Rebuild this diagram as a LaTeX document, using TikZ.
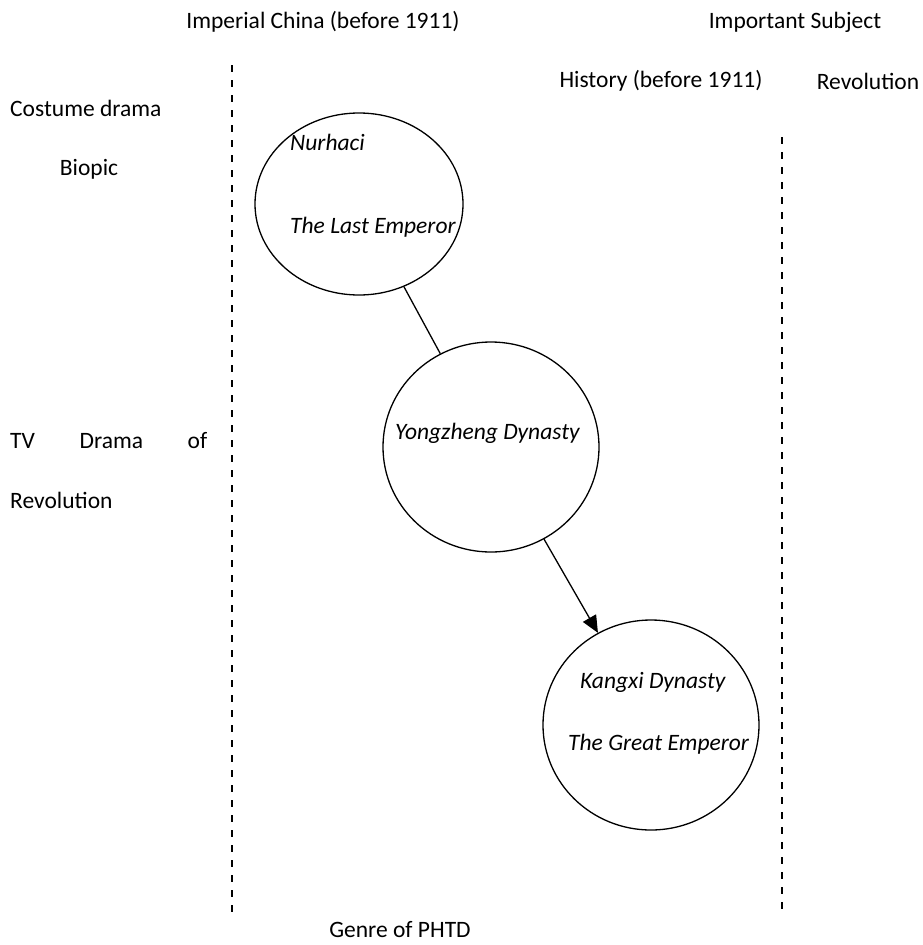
\documentclass[tikz,border=0pt]{standalone}
\usepackage{fontspec}
\setmainfont{Carlito}
\usetikzlibrary{arrows.meta, shapes.geometric}
\tikzset{font=\fontsize{23.5}{27}\selectfont, inner sep=0pt}
\tikzset{film/.style={shape=ellipse, draw, line width=1.3pt,
    minimum width=216pt, minimum height=210pt}}
\tikzset{title/.style={font=\fontsize{23.5}{27}\selectfont\itshape, anchor=west}}
\tikzset{divide/.style={line width=1.4pt, dash pattern=on 7pt off 8pt}}

\begin{document}
\begin{tikzpicture}[x=1pt, y=-1pt]
      \useasboundingbox (0,0) rectangle (922,945);
      % the two dashed borders
      \draw[divide] (232,65) -- (232,913);
      \draw[divide] (782,137) -- (782,913);
      % axis labels
      \node (imperial) at (323,22) {Imperial China (before 1911)};
      \node (subject) at (795,22) {Important Subject};
      \node (history) at (661,81) {History (before 1911)};
      \node (revolution) at (868,81) {Revolution};
      \node[anchor=west] (costume) at (10,108) {Costume drama};
      \node (biopic) at (89,169) {Biopic};
      \node[anchor=west] (tvdrama) at (10,441) {\makebox[197pt][s]{TV\hfill Drama\hfill of}};
      \node[anchor=west] (tvrev) at (10,500) {Revolution};
      \node (genre) at (400,930) {Genre of PHTD};
      % dramas
      \node[film, minimum width=208pt, minimum height=182pt] (nurhaci) at (359,204) {};
      \node[film] (yongzheng) at (491,447) {};
      \node[film] (kangxi) at (651,725) {};
      \node[title] (nurhacitxt) at (290,142) {Nurhaci};
      \node[title] (lastemp) at (290,227) {The Last Emperor};
      \node[title] (yongtxt) at (395,433) {Yongzheng Dynasty};
      \node[title] (kangtxt) at (580,682) {Kangxi Dynasty};
      \node[title] (greatemp) at (568,744) {The Great Emperor};
      \draw[line width=1.3pt] (nurhaci) -- (yongzheng);
      \draw[line width=1.3pt, -{Triangle[length=17pt, width=15pt]}] (yongzheng) -- (kangxi);
\end{tikzpicture}
\end{document}
